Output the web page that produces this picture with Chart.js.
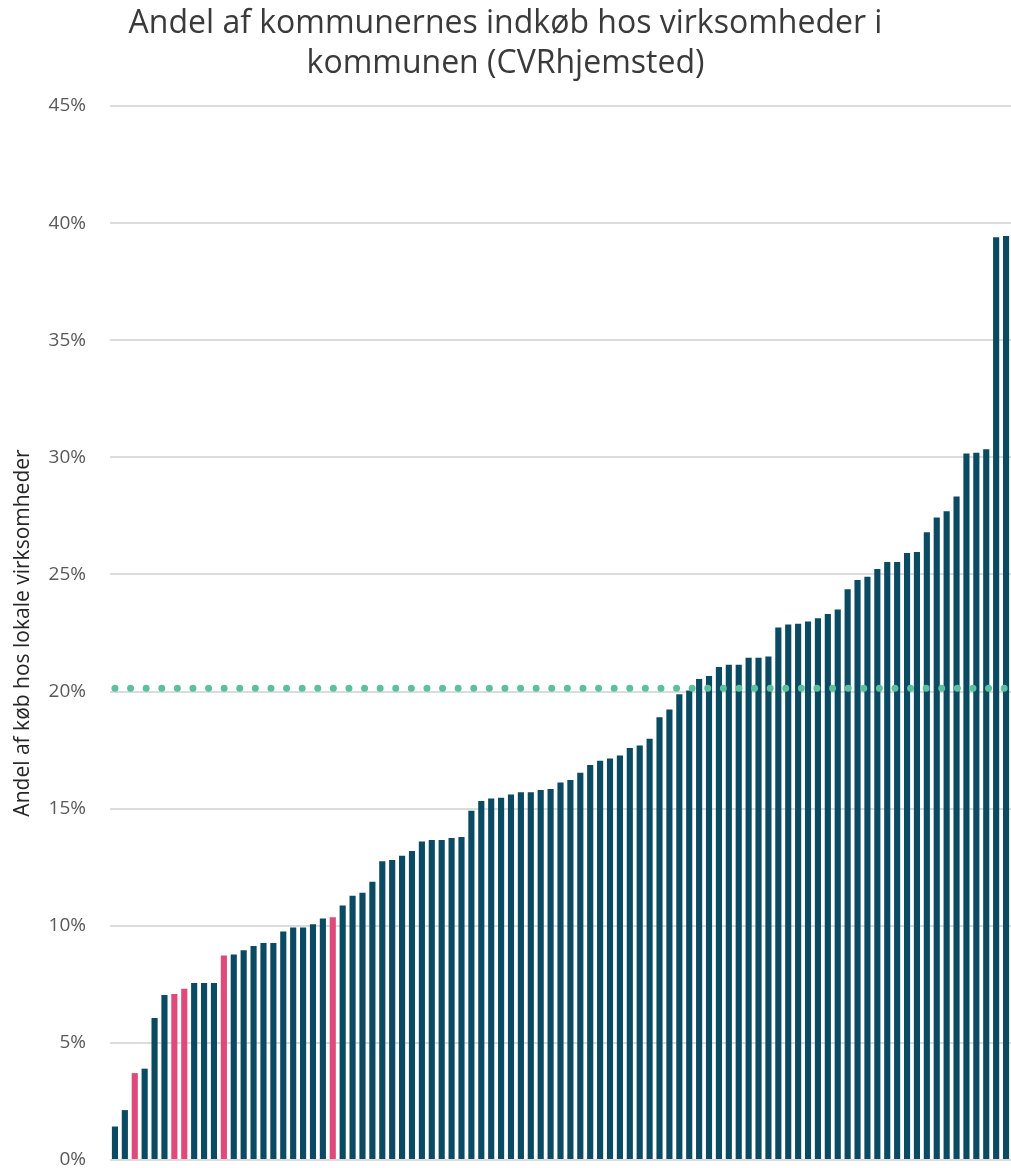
<!DOCTYPE html>
<html>
<head>
<meta charset="utf-8">
<script src="https://cdn.jsdelivr.net/npm/chart.js@4"></script>
<style>
  html, body { margin: 0; padding: 0; background: #fff; overflow: hidden; }
  #wrap { width: 1011px; height: 1168px; }
</style>
</head>
<body>
<div id="wrap"><canvas id="chart" width="1011" height="1168"></canvas></div>
<script>
// Andel af indkøb hos lokale virksomheder, én søjle pr. kommune (sorteret)
const shares = [
  1.43, 2.13, 3.71, 3.90, 6.06, 7.04, 7.09, 7.31, 7.56, 7.56,
  7.56, 8.73, 8.77, 8.96, 9.14, 9.27, 9.27, 9.76, 9.93, 9.93,
  10.07, 10.31, 10.36, 10.87, 11.28, 11.41, 11.88, 12.76, 12.81, 12.99,
  13.19, 13.60, 13.66, 13.66, 13.75, 13.79, 14.91, 15.33, 15.43, 15.47,
  15.61, 15.70, 15.70, 15.80, 15.84, 16.12, 16.22, 16.53, 16.86, 17.05,
  17.14, 17.27, 17.59, 17.70, 17.98, 18.90, 19.23, 19.89, 20.05, 20.54,
  20.66, 21.05, 21.14, 21.14, 21.44, 21.44, 21.50, 22.73, 22.86, 22.89,
  22.99, 23.13, 23.31, 23.50, 24.37, 24.76, 24.90, 25.23, 25.53, 25.53,
  25.92, 25.96, 26.80, 27.43, 27.70, 28.33, 30.16, 30.20, 30.34, 39.40,
  39.45
];
// fremhævede kommuner (index i shares)
const highlighted = [2, 6, 7, 11, 22];
const average = 20.14;
const yTicks = [0, 5, 10, 15, 20, 25, 30, 35, 40, 45];

const categories = shares.map((v, i) => String(i + 1));
const barColors = shares.map((v, i) => highlighted.includes(i) ? '#e04a7b' : '#0b4a63');

new Chart(document.getElementById('chart'), {
  data: {
    labels: categories,
    datasets: [
      {
        type: 'line',
        data: categories.map(() => average),
        borderColor: '#5cbf9d',
        borderWidth: 7,
        borderDash: [0, 15.6],
        borderCapStyle: 'round',
        pointRadius: 0,
        order: 0
      },
      {
        type: 'bar',
        data: shares,
        backgroundColor: barColors,
        barPercentage: 0.62,
        categoryPercentage: 1,
        order: 1
      }
    ]
  },
  options: {
    responsive: false,
    animation: false,
    devicePixelRatio: 1,
    layout: { padding: 0 },
    plugins: {
      legend: { display: false },
      tooltip: { enabled: false },
      title: {
        display: true,
        text: ['Andel af kommunernes indkøb hos virksomheder i', 'kommunen (CVRhjemsted)'],
        color: '#3a3a3a',
        font: { family: '"Open Sans", sans-serif', size: 32, weight: 'normal', lineHeight: 1.25 },
        padding: { top: 4, bottom: 22 }
      }
    },
    scales: {
      x: {
        display: true,
        afterFit: s => { s.height = 8; },
        ticks: { display: false },
        grid: { display: false },
        border: { display: false }
      },
      y: {
        min: 0,
        max: 45,
        afterBuildTicks: s => { s.ticks = yTicks.map(v => ({ value: v })); },
        afterFit: s => { s.width = 110; },
        ticks: {
          callback: v => v + '%',
          color: '#595959',
          font: { family: '"Open Sans", sans-serif', size: 19, lineHeight: 0.8 },
          padding: 0
        },
        grid: { color: '#dcdcdc', lineWidth: 2, drawTicks: true, tickLength: 24, tickColor: 'rgba(0,0,0,0)' },
        border: { display: false },
        title: {
          display: true,
          text: 'Andel af køb hos lokale virksomheder',
          color: '#262626',
          font: { family: '"Liberation Sans Narrow", "Open Sans", sans-serif', size: 21 },
          padding: { top: 10, bottom: 0 }
        }
      }
    }
  }
});
</script>
</body>
</html>
